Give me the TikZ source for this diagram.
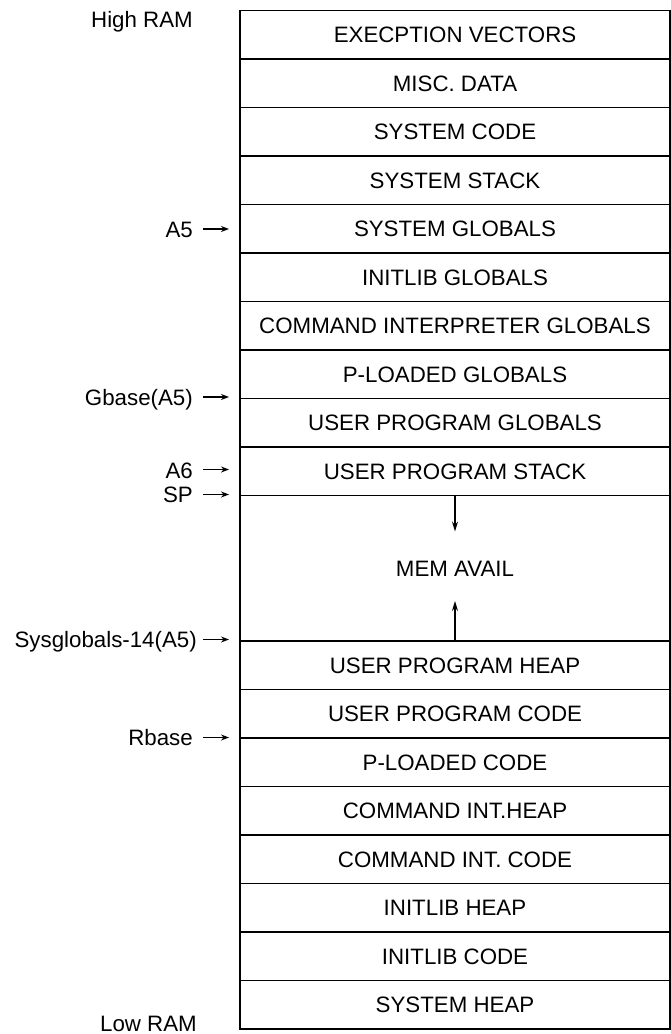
\documentclass[tikz,border=0pt]{standalone}
\usepackage{fontspec}
\setmainfont{Liberation Sans}
\usetikzlibrary{arrows.meta,positioning}
\begin{document}
\begin{tikzpicture}[x=1pt,y=-1pt,
  cell/.style={draw,line width=1.4pt,outer sep=0pt,minimum width=430pt,minimum height=48.5pt,inner sep=0pt,
    text height=16pt,text depth=0pt,font=\fontsize{22.3}{24}\selectfont},
  lbl/.style={anchor=base east,inner sep=0pt,font=\fontsize{22.3}{24}\selectfont},
  side/.style={inner sep=0pt,font=\fontsize{22.3}{24}\selectfont},
  ptr/.style={line width=1.3pt,-{Stealth[length=8pt,width=6pt]}},
  growarrow/.style={line width=1.3pt,-{Stealth[length=10pt,width=6pt]}}]
\useasboundingbox (0,0) rectangle (671,1034);
\fill[white] (0,0) rectangle (671,1034);
\node[cell,anchor=north west] (r1) at (240,10.5) {EXECPTION VECTORS};
\node[cell,below=0pt of r1] (r2) {MISC. DATA};
\node[cell,below=0pt of r2] (r3) {SYSTEM CODE};
\node[cell,below=0pt of r3] (r4) {SYSTEM STACK};
\node[cell,below=0pt of r4] (r5) {SYSTEM GLOBALS};
\node[cell,below=0pt of r5] (r6) {INITLIB GLOBALS};
\node[cell,below=0pt of r6] (r7) {COMMAND INTERPRETER GLOBALS};
\node[cell,below=0pt of r7] (r8) {P-LOADED GLOBALS};
\node[cell,below=0pt of r8] (r9) {USER PROGRAM GLOBALS};
\node[cell,below=0pt of r9] (r10) {USER PROGRAM STACK};
\node[cell,below=0pt of r10,minimum height=145.5pt] (mem) {MEM AVAIL};
\node[cell,below=0pt of mem] (r11) {USER PROGRAM HEAP};
\node[cell,below=0pt of r11] (r12) {USER PROGRAM CODE};
\node[cell,below=0pt of r12] (r13) {P-LOADED CODE};
\node[cell,below=0pt of r13] (r14) {COMMAND INT.HEAP};
\node[cell,below=0pt of r14] (r15) {COMMAND INT. CODE};
\node[cell,below=0pt of r15] (r16) {INITLIB HEAP};
\node[cell,below=0pt of r16] (r17) {INITLIB CODE};
\node[cell,below=0pt of r17] (r18) {SYSTEM HEAP};
\coordinate (dn) at ([yshift=-36pt]mem.north);
\coordinate (up) at ([yshift=40pt]mem.south);
\draw[growarrow] (mem.north) -- (dn);
\draw[growarrow] (mem.south) -- (up);
\node[side,anchor=base east] (high) at (193,27) {High RAM};
\node[side,anchor=base east] (low) at (197,1031) {Low RAM};
\node[lbl] (a5) at (193,237) {A5};
\node[lbl] (gb) at (193,405.5) {Gbase(A5)};
\node[lbl] (a6) at (193,478) {A6};
\node[lbl] (sp) at (193,502.5) {SP};
\node[lbl] (sg) at (197,647.5) {Sysglobals-14(A5)};
\node[lbl] (rb) at (193,745.5) {Rbase};
\foreach \n/\yy in {a5/229,gb/397,a6/469.5,sp/494.5,sg/639.5,rb/737.5}{
  \coordinate (\n s) at (203,\yy);
  \coordinate (\n t) at (229,\yy);
  \draw[ptr] (\n s) -- (\n t);
}
\end{tikzpicture}
\end{document}
